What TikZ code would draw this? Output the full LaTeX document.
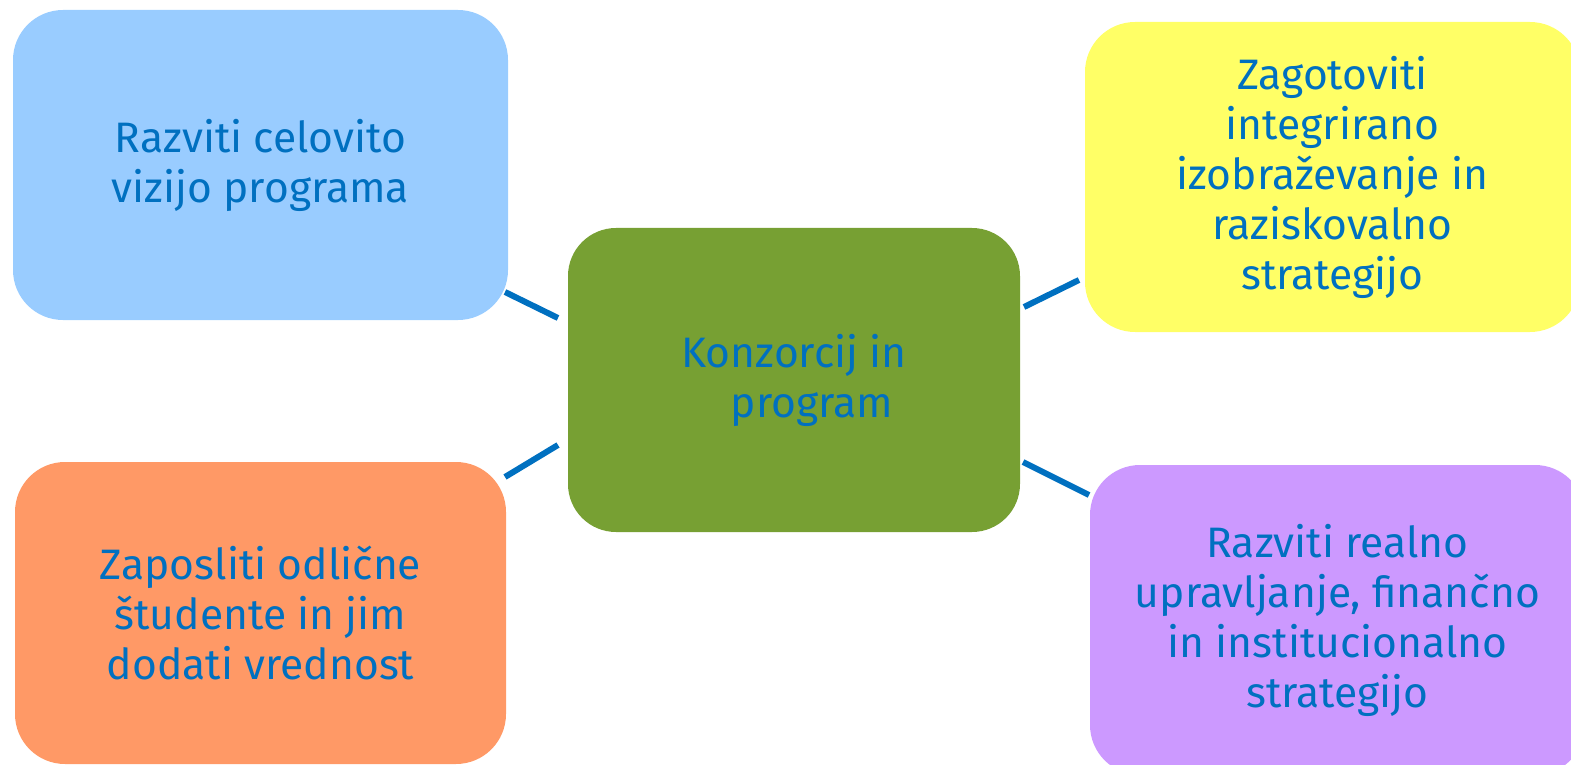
\documentclass[tikz,border=0pt]{standalone}
\usepackage{fontspec}
\setmainfont{Fira Sans}
\definecolor{cblue}{HTML}{99CCFF}
\definecolor{cyellow}{HTML}{FFFF66}
\definecolor{cgreen}{HTML}{77A033}
\definecolor{corange}{HTML}{FF9966}
\definecolor{cpurple}{HTML}{CC99FF}
\definecolor{ctext}{HTML}{0070C0}
\tikzset{
  box/.style={draw=none, rounded corners=25pt, inner sep=0pt, align=center,
    text=ctext, font=\fontsize{21.3}{25}\selectfont},
  conn/.style={draw=ctext, line width=3pt},
}
\begin{document}
\begin{tikzpicture}[x=0.5pt,y=-0.5pt]
\useasboundingbox (0,0) rectangle (1571,765);
\clip (0,0) rectangle (1571,765);
\node[box, fill=cblue, minimum width=247.5pt, minimum height=155pt] (vis) at (260.5,165)
  {Razviti celovito\\vizijo programa};
\node[box, fill=cyellow, minimum width=247.5pt, minimum height=155pt] (izo) at (1332.5,177)
  {Zagotoviti\\integrirano\\izobraževanje in\\raziskovalno\\strategijo};
\node[box, fill=cgreen, rounded corners=24pt, minimum width=226pt, minimum height=152pt] (kon) at (794,380)
  {Konzorcij in\\\hspace*{18pt}program};
\node[box, fill=corange, minimum width=245.5pt, minimum height=151pt] (stu) at (260.5,613)
  {Zaposliti odlične\\študente in jim\\dodati vrednost};
\node[box, fill=cpurple, minimum width=247.5pt, minimum height=155pt] (upr) at (1337.5,620)
  {Razviti realno\\upravljanje, finančno\\in institucionalno\\strategijo};
\coordinate (a1) at (505,292); \coordinate (a2) at (558,318);
\coordinate (b1) at (505,477); \coordinate (b2) at (558,445);
\coordinate (c1) at (1024,307); \coordinate (c2) at (1079,280);
\coordinate (d1) at (1023,462); \coordinate (d2) at (1089,495);
\draw[conn] (a1) -- (a2);
\draw[conn] (b1) -- (b2);
\draw[conn] (c1) -- (c2);
\draw[conn] (d1) -- (d2);
\end{tikzpicture}
\end{document}
